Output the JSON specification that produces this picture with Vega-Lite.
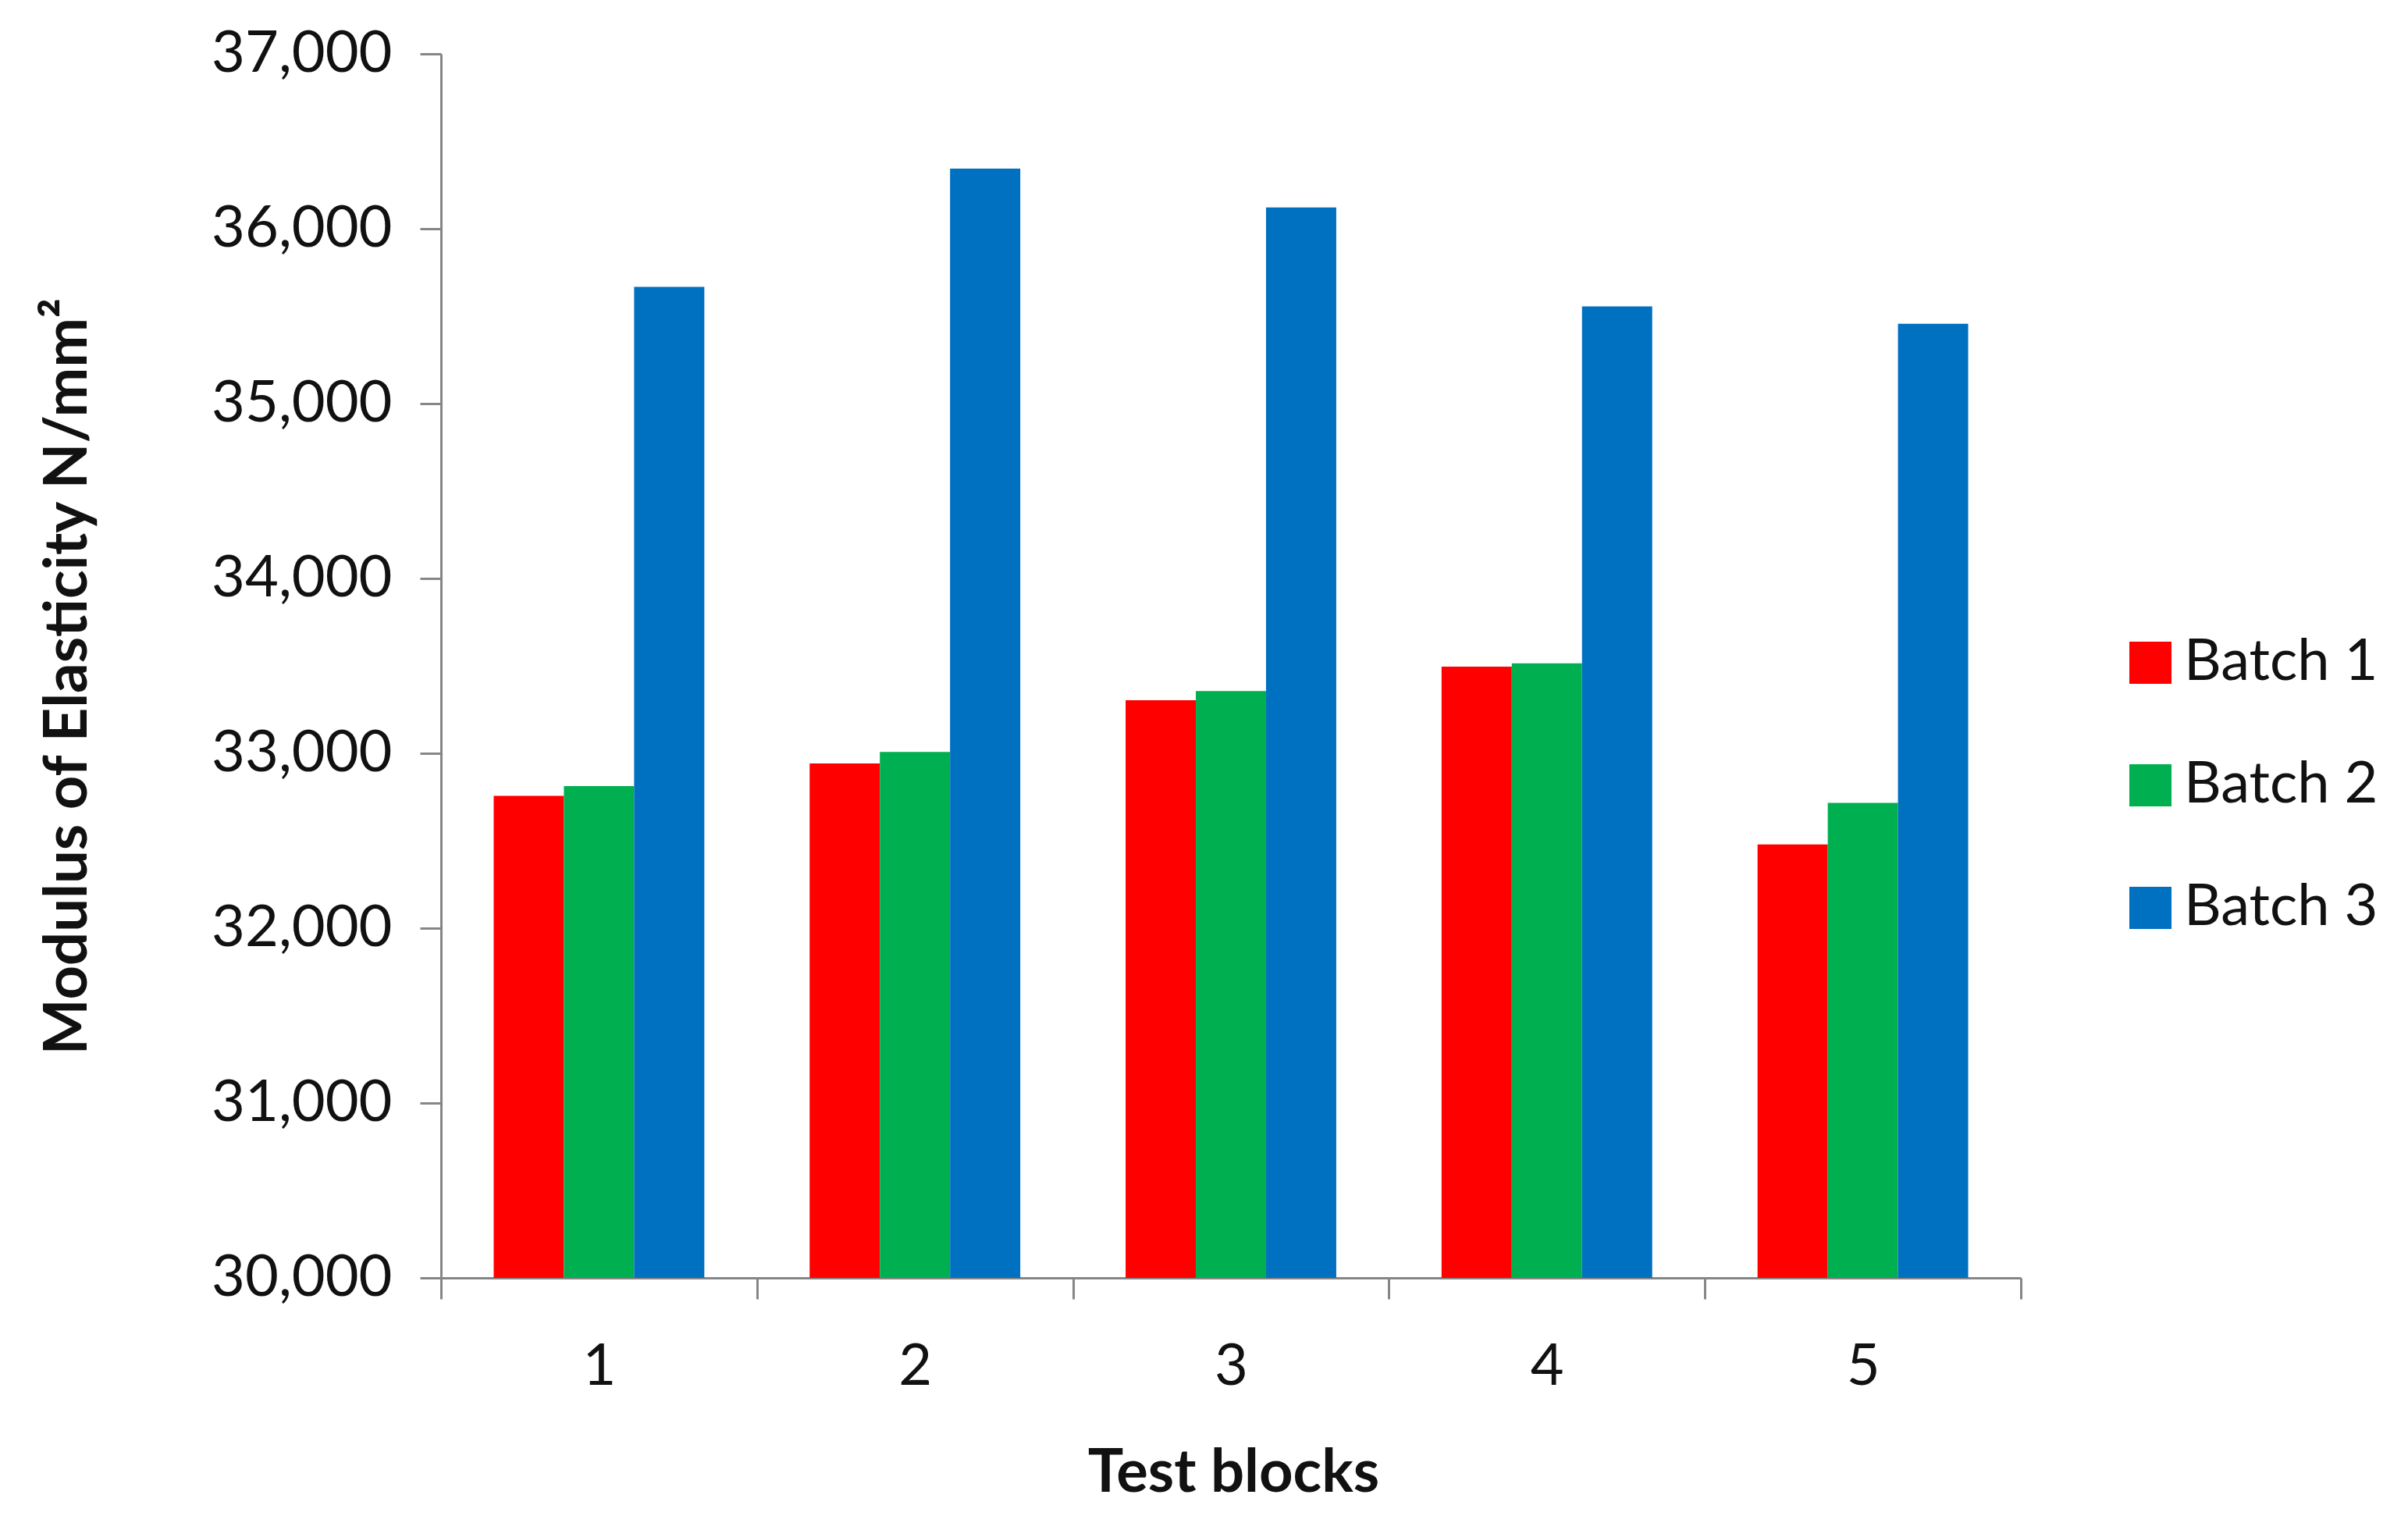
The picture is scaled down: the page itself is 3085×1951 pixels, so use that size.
{
  "$schema": "https://vega.github.io/schema/vega-lite/v6.json",
  "width": 2024,
  "height": 1568,
  "autosize": {"type": "none"},
  "padding": {"left": 565, "top": 69, "right": 496, "bottom": 314},
  "background": "white",
  "data": {
    "values": [
      {"block": "1", "batch": "Batch 1", "value": 32757},
      {"block": "1", "batch": "Batch 2", "value": 32812},
      {"block": "1", "batch": "Batch 3", "value": 35667},
      {"block": "2", "batch": "Batch 1", "value": 32942},
      {"block": "2", "batch": "Batch 2", "value": 33008},
      {"block": "2", "batch": "Batch 3", "value": 36344},
      {"block": "3", "batch": "Batch 1", "value": 33304},
      {"block": "3", "batch": "Batch 2", "value": 33356},
      {"block": "3", "batch": "Batch 3", "value": 36122},
      {"block": "4", "batch": "Batch 1", "value": 33496},
      {"block": "4", "batch": "Batch 2", "value": 33515},
      {"block": "4", "batch": "Batch 3", "value": 35556},
      {"block": "5", "batch": "Batch 1", "value": 32479},
      {"block": "5", "batch": "Batch 2", "value": 32716},
      {"block": "5", "batch": "Batch 3", "value": 35456}
    ]
  },
  "mark": {"type": "bar"},
  "encoding": {
    "x": {
      "field": "block",
      "type": "nominal",
      "scale": {"paddingInner": 0, "paddingOuter": 0},
      "axis": {
        "title": "Test blocks",
        "labelAngle": 0,
        "tickBand": "extent",
        "labelBaseline": "alphabetic",
        "labelPadding": 109,
        "titleBaseline": "alphabetic",
        "titleY": 273,
        "titleX": 1015
      }
    },
    "xOffset": {
      "field": "batch",
      "type": "nominal",
      "scale": {"paddingInner": 0, "paddingOuter": 0.75}
    },
    "y": {
      "field": "value",
      "type": "quantitative",
      "scale": {"domain": [30000, 37000], "nice": false, "zero": false},
      "axis": {
        "title": "Modulus  of Elasticity N/mm²",
        "values": [30000, 31000, 32000, 33000, 34000, 35000, 36000, 37000],
        "format": ",.0f",
        "labelPadding": 36,
        "titleAngle": -90,
        "titleBaseline": "alphabetic",
        "titleAlign": "center",
        "titleX": -455,
        "titleY": 797
      }
    },
    "y2": {"datum": 30000},
    "color": {
      "field": "batch",
      "type": "nominal",
      "scale": {
        "domain": ["Batch 1", "Batch 2", "Batch 3"],
        "range": ["#FF0000", "#00B050", "#0070C0"]
      },
      "legend": {
        "title": null,
        "orient": "none",
        "legendX": 2153,
        "legendY": 743,
        "symbolType": "square",
        "symbolSize": 2916,
        "symbolStrokeWidth": 0,
        "symbolOpacity": 1,
        "labelFont": "Lato",
        "labelFontSize": 74,
        "labelColor": "#111111",
        "labelOffset": 6,
        "labelLimit": 0,
        "rowPadding": 83
      }
    }
  },
  "config": {
    "view": {"stroke": null},
    "axis": {
      "grid": false,
      "domainColor": "#868686",
      "domainWidth": 3,
      "tickColor": "#868686",
      "tickWidth": 3,
      "tickSize": 27,
      "labelFont": "Lato",
      "labelFontSize": 74,
      "labelLimit": 0,
      "labelColor": "#111111",
      "titleFont": "Lato",
      "titleFontWeight": "bold",
      "titleFontSize": 76,
      "titleColor": "#111111"
    }
  }
}
